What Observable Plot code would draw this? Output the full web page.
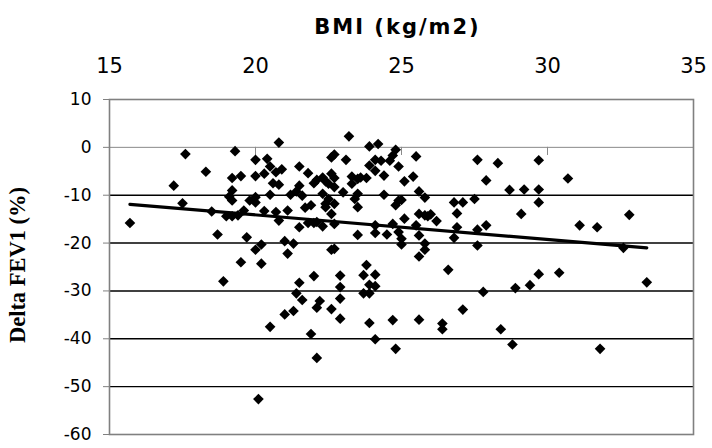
<!DOCTYPE html>
<html>
<head>
<meta charset="utf-8">
<script src="https://cdn.jsdelivr.net/npm/d3@7"></script>
<script src="https://cdn.jsdelivr.net/npm/@observablehq/plot@0.6"></script>
<style>
  html, body { margin: 0; padding: 0; background: white; }
</style>
</head>
<body>
<div id="chart"></div>
<script>
const bmi = [
  15.7,17.6,17.2,17.5,18.3,18.5,18.7,19.3,19.2,19.5,19.2,19.1,19.2,19.0,19.2,19.4,19.6,19.7,19.5,20.0,
  20.0,19.8,20.0,20.0,20.4,20.3,20.5,20.6,20.7,20.9,20.8,20.5,20.3,20.7,20.8,20.2,20.0,20.2,21.0,21.3,
  21.1,21.1,21.2,21.5,21.4,21.6,21.5,21.8,21.7,21.5,21.8,20.8,
  23.2,23.9,24.2,22.7,22.6,23.1,22.0,22.1,22.3,22.4,22.5,22.6,22.7,22.7,22.3,22.5,22.4,22.7,21.9,22.4,
  22.6,22.0,22.1,22.3,22.7,22.6,22.7,23.0,23.3,23.3,23.5,23.6,23.8,23.4,23.5,23.5,23.5,23.9,24.1,24.1,
  24.3,24.4,24.4,24.6,24.7,24.8,24.9,25.1,25.4,25.5,24.8,24.9,25.0,25.1,25.6,25.8,25.6,25.8,25.9,26.0,
  26.2,25.5,25.6,25.8,25.8,25.6,25.0,25.0,24.9,24.7,24.1,24.1,24.5,23.8,26.8,27.1,27.5,26.9,26.8,26.9,
  27.6,27.6,27.6,27.9,27.9,
  28.3,29.7,28.7,29.2,29.7,29.7,30.7,29.1,31.1,31.7,32.8,32.6,
  18.9,21.5,22.0,21.4,21.6,21.0,21.3,20.5,22.2,22.1,22.6,22.9,22.9,22.9,22.9,21.9,22.1,20.1,23.7,24.1,
  23.9,24.1,23.7,23.9,23.9,24.7,24.1,24.8,
  26.6,27.8,25.6,26.4,26.4,27.1,28.4,28.8,28.9,29.4,29.7,30.4,31.8,33.4
];
const fev = [
  -15.8,-1.4,-8.0,-11.7,-5.1,-13.4,-18.2,-0.8,-6.4,-6.0,-9.0,-10.3,-11.1,-14.4,-14.4,-14.2,-13.2,-18.8,-24.0,-2.6,
  -6.0,-11.1,-10.4,-11.5,-2.4,-5.5,-4.0,-7.5,-5.2,-4.6,-7.8,-9.9,-13.3,-13.5,-15.3,-20.3,-21.4,-24.3,-19.6,-20.1,
  -22.2,-13.2,-9.9,-8.0,-9.2,-10.1,-4.0,-5.4,-12.6,-16.7,-15.8,1.0,
  2.3,0.2,0.7,-1.5,-2.1,-2.6,-7.5,-6.8,-6.3,-7.1,-7.6,-5.5,-6.4,-8.3,-9.7,-10.8,-11.8,-11.8,-12.1,-12.5,
  -13.9,-15.8,-15.6,-16.5,-16.0,-21.4,-21.2,-9.4,-6.1,-7.6,-6.6,-6.3,-6.4,-10.8,-9.7,-12.5,-18.3,-3.8,-4.9,-2.6,
  -2.8,-5.9,-9.9,-2.8,-1.7,-0.5,-4.0,-7.1,-6.1,-1.9,-12.1,-11.1,-11.0,-14.9,-9.2,-10.5,-13.9,-14.2,-14.4,-14.0,
  -15.4,-16.3,-18.4,-20.1,-21.4,-22.8,-19.1,-20.3,-17.7,-16.0,-16.3,-17.9,-18.2,-24.6,-11.5,-11.5,-10.8,-13.8,-18.9,-16.7,
  -17.2,-20.5,-2.6,-6.9,-16.3,
  -3.3,-2.7,-8.9,-8.8,-8.8,-11.5,-6.5,-13.9,-16.3,-16.7,-14.1,-21.0,
  -28.0,-28.3,-26.9,-30.5,-31.9,-34.9,-34.2,-37.5,-32.1,-33.5,-33.8,-35.8,-26.8,-29.2,-31.6,-39.0,-44.0,-52.6,-26.7,-26.6,
  -28.7,-29.0,-30.5,-30.5,-36.7,-36.1,-40.1,-42.1,
  -25.6,-30.2,-36.0,-36.8,-38.0,-33.9,-38.0,-41.2,-29.4,-28.8,-26.5,-26.2,-42.1,-28.2
];
const trendBmi = [15.7, 33.4];
const trendFev = [-11.9, -21.0];
const xTicks = [15, 20, 25, 30, 35];
const yTicks = [10, 0, -10, -20, -30, -40, -50, -60];
const gridValues = [-10, -20, -30, -40, -50];
const xTitle = "BMI (kg/m2)";
const yTitle = "Delta FEV1 (%)";

const points = bmi.map((x, i) => ({x, y: fev[i]}));
const trend = trendBmi.map((x, i) => ({x, y: trendFev[i]}));

const chart = Plot.plot({
  width: 712,
  height: 448,
  marginTop: 99,
  marginLeft: 109,
  marginRight: 19,
  marginBottom: 14,
  style: {fontFamily: "DejaVu Sans", background: "white", color: "black"},
  x: {domain: [15, 35]},
  y: {domain: [-60, 10]},
  marks: [
    Plot.ruleY(gridValues, {stroke: "black", strokeWidth: 1.4}),
    Plot.ruleY([0], {stroke: "#8a8a8a", strokeWidth: 1}),
    Plot.ruleX(xTicks.slice(1, -1), {x: d => d, y1: 0, y2: -1.7, stroke: "#8a8a8a"}),
    Plot.frame({stroke: "#808080", strokeWidth: 1.6}),
    Plot.axisY({ticks: yTicks, tickSize: 6, tickPadding: 12, fontSize: 17, stroke: "#808080", tickFormat: d => String(d), label: null}),
    Plot.axisX({anchor: "top", ticks: xTicks, tickSize: 0, tickPadding: 27, fontSize: 21, tickFormat: d => String(d), label: null}),
    Plot.dot(points, {x: "x", y: "y", symbol: "diamond2", r: 4.8, fill: "black", stroke: null}),
    Plot.line(trend, {x: "x", y: "y", stroke: "black", strokeWidth: 3.2}),
    Plot.text([xTitle], {frameAnchor: "top", textAnchor: "middle", dx: -4, dy: -80, fontSize: 21, fontWeight: "bold", fontFamily: "DejaVu Sans"}),
    Plot.text([yTitle], {frameAnchor: "left", textAnchor: "middle", rotate: -90, dx: -92, dy: -2, fontSize: 22.5, fontWeight: "bold", fontFamily: "Liberation Serif"})
  ]
});
d3.select(chart).selectAll("text").each(function() {
  if (this.textContent === xTitle) d3.select(this).attr("letter-spacing", 2);
});
document.getElementById("chart").appendChild(chart);
</script>
</body>
</html>
